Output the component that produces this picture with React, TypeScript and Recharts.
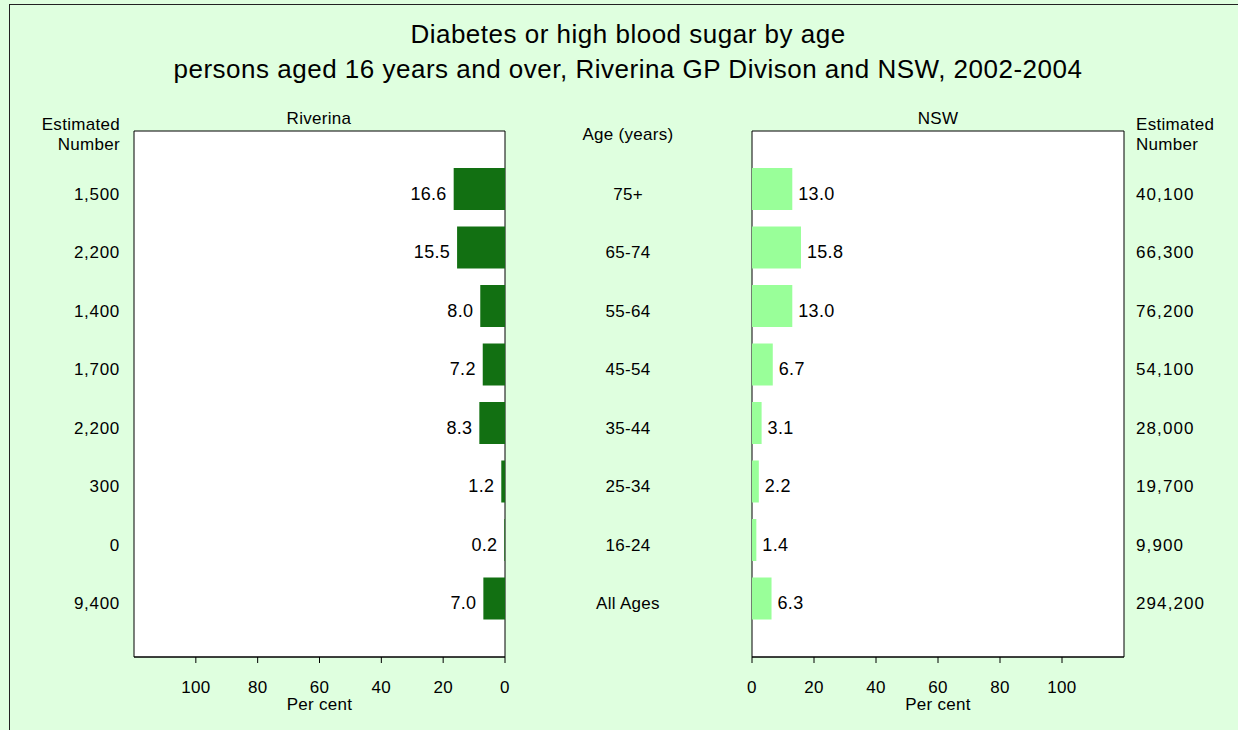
import React from 'react'
import { BarChart, Bar, XAxis, YAxis, CartesianGrid, LabelList } from 'recharts'

// age groups, top to bottom
const ages = ['75+', '65-74', '55-64', '45-54', '35-44', '25-34', '16-24', 'All Ages']
// per cent with diabetes or high blood sugar
const rivPct = [16.6, 15.5, 8.0, 7.2, 8.3, 1.2, 0.2, 7.0]
const nswPct = [13.0, 15.8, 13.0, 6.7, 3.1, 2.2, 1.4, 6.3]
// estimated number of persons
const rivNum = [1500, 2200, 1400, 1700, 2200, 300, 0, 9400]
const nswNum = [40100, 66300, 76200, 54100, 28000, 19700, 9900, 294200]
const pctTicks = [0, 20, 40, 60, 80, 100]

const FONT = '"Liberation Sans", Arial, sans-serif'
const BG = '#dfffdf'
const DARK = '#127012'
const LIGHT = '#99ff99'

const data = ages.map((age, i) => ({
  age,
  riv: rivPct[i],
  nsw: nswPct[i],
  rivNum: rivNum[i].toLocaleString('en-US'),
  nswNum: nswNum[i].toLocaleString('en-US'),
}))

// border of the plot area, taken from the chart offset
const edgesH = ({ offset }: any) => (offset ? [offset.top, offset.top + offset.height] : [])
const edgesV = ({ offset }: any) => (offset ? [offset.left, offset.left + offset.width] : [])

function RowTick(props: any) {
  const { x, y, index, labels, anchor, spacing } = props
  return (
    <text x={x} y={y} dy={10.5} textAnchor={anchor} fill="#000" fontSize={17} letterSpacing={spacing}>
      {labels[index]}
    </text>
  )
}

function ValueLabel(props: any) {
  const { x, y, width, height, value, side } = props
  const left = Math.min(x, x + width)
  const right = Math.max(x, x + width)
  const cy = y + height / 2
  return side === 'left' ? (
    <text x={left - 7} y={cy} dy={10.5} textAnchor="end" fill="#000" fontSize={18}>
      {Number(value).toFixed(1)}
    </text>
  ) : (
    <text x={right + 6} y={cy} dy={10.5} textAnchor="start" fill="#000" fontSize={18}>
      {Number(value).toFixed(1)}
    </text>
  )
}

const axisTick = { fill: '#000', fontSize: 17 }
const pad = { top: 29, bottom: 29 }

export default function App() {
  return (
    <div
      style={{
        position: 'absolute',
        left: 0,
        top: 0,
        width: 1238,
        height: 730,
        background: BG,
        fontFamily: FONT,
        letterSpacing: '0.3px',
        overflow: 'hidden',
      }}
    >
      {/* outer frame, only top and left edges show */}
      <div
        style={{
          position: 'absolute',
          left: 9,
          top: 4,
          right: -2,
          bottom: -2,
          borderTop: '1px solid #222',
          borderLeft: '1px solid #222',
        }}
      />

      <svg width={1238} height={730} style={{ position: 'absolute', left: 0, top: 0 }} fontFamily={FONT}>
        <text x={628} y={43} textAnchor="middle" fontSize={26} letterSpacing={0.5} fill="#000">
          Diabetes or high blood sugar by age
        </text>
        <text x={628} y={78} textAnchor="middle" fontSize={26} letterSpacing={0.5} fill="#000">
          persons aged 16 years and over, Riverina GP Divison and NSW, 2002-2004
        </text>
        <text x={319} y={124} textAnchor="middle" fontSize={17} fill="#000">Riverina</text>
        <text x={938} y={124} textAnchor="middle" fontSize={17} fill="#000">NSW</text>
        <text x={628} y={140} textAnchor="middle" fontSize={17} fill="#000">Age (years)</text>
        <text x={120} y={130} textAnchor="end" fontSize={17} fill="#000">Estimated</text>
        <text x={120} y={150} textAnchor="end" fontSize={17} fill="#000">Number</text>
        <text x={1136} y={130} textAnchor="start" fontSize={17} fill="#000">Estimated</text>
        <text x={1136} y={150} textAnchor="start" fontSize={17} fill="#000">Number</text>
      </svg>

      {/* Riverina */}
      <div style={{ position: 'absolute', left: 0, top: 100 }}>
        <BarChart
          width={520}
          height={630}
          data={data}
          layout="vertical"
          margin={{ top: 31, right: 15, left: 0, bottom: 0 }}
          barCategoryGap={0}
        >
          <CartesianGrid
            fill="#fff"
            fillOpacity={1}
            stroke="#000"
            horizontalCoordinatesGenerator={edgesH}
            verticalCoordinatesGenerator={edgesV}
          />
          <XAxis
            type="number"
            domain={[0, 120]}
            ticks={pctTicks}
            reversed
            height={73}
            axisLine={{ stroke: '#000' }}
            tickLine={{ stroke: '#000' }}
            tickSize={6}
            tickMargin={18}
            tick={axisTick}
            interval={0}
            label={{ value: 'Per cent', position: 'insideBottom', offset: 20, fill: '#000', fontSize: 17 }}
          />
          <YAxis
            type="category"
            dataKey="age"
            width={134}
            padding={pad}
            axisLine={false}
            tickLine={false}
            tickSize={0}
            tickMargin={14}
            interval={0}
            tick={(p: any) => <RowTick {...p} labels={data.map((d) => d.rivNum)} anchor="end" spacing={0.7} />}
          />
          <Bar dataKey="riv" fill={DARK} barSize={42} isAnimationActive={false}>
            <LabelList dataKey="riv" content={(p: any) => <ValueLabel {...p} side="left" />} />
          </Bar>
        </BarChart>
      </div>

      {/* NSW */}
      <div style={{ position: 'absolute', left: 520, top: 100 }}>
        <BarChart
          width={718}
          height={630}
          data={data}
          layout="vertical"
          margin={{ top: 31, right: 0, left: 0, bottom: 0 }}
          barCategoryGap={0}
        >
          <CartesianGrid
            fill="#fff"
            fillOpacity={1}
            stroke="#000"
            horizontalCoordinatesGenerator={edgesH}
            verticalCoordinatesGenerator={edgesV}
          />
          <XAxis
            type="number"
            domain={[0, 120]}
            ticks={pctTicks}
            height={73}
            axisLine={{ stroke: '#000' }}
            tickLine={{ stroke: '#000' }}
            tickSize={6}
            tickMargin={18}
            tick={axisTick}
            interval={0}
            label={{ value: 'Per cent', position: 'insideBottom', offset: 20, fill: '#000', fontSize: 17 }}
          />
          <YAxis
            yAxisId="age"
            type="category"
            dataKey="age"
            width={232}
            padding={pad}
            axisLine={false}
            tickLine={false}
            tickSize={0}
            tickMargin={124}
            interval={0}
            tick={(p: any) => <RowTick {...p} labels={ages} anchor="middle" spacing={0.3} />}
          />
          <YAxis
            yAxisId="num"
            orientation="right"
            type="category"
            dataKey="age"
            width={114}
            padding={pad}
            axisLine={false}
            tickLine={false}
            tickSize={0}
            tickMargin={12}
            interval={0}
            tick={(p: any) => <RowTick {...p} labels={data.map((d) => d.nswNum)} anchor="start" spacing={1.1} />}
          />
          <Bar yAxisId="age" dataKey="nsw" fill={LIGHT} barSize={42} isAnimationActive={false}>
            <LabelList dataKey="nsw" content={(p: any) => <ValueLabel {...p} side="right" />} />
          </Bar>
        </BarChart>
      </div>
    </div>
  )
}
